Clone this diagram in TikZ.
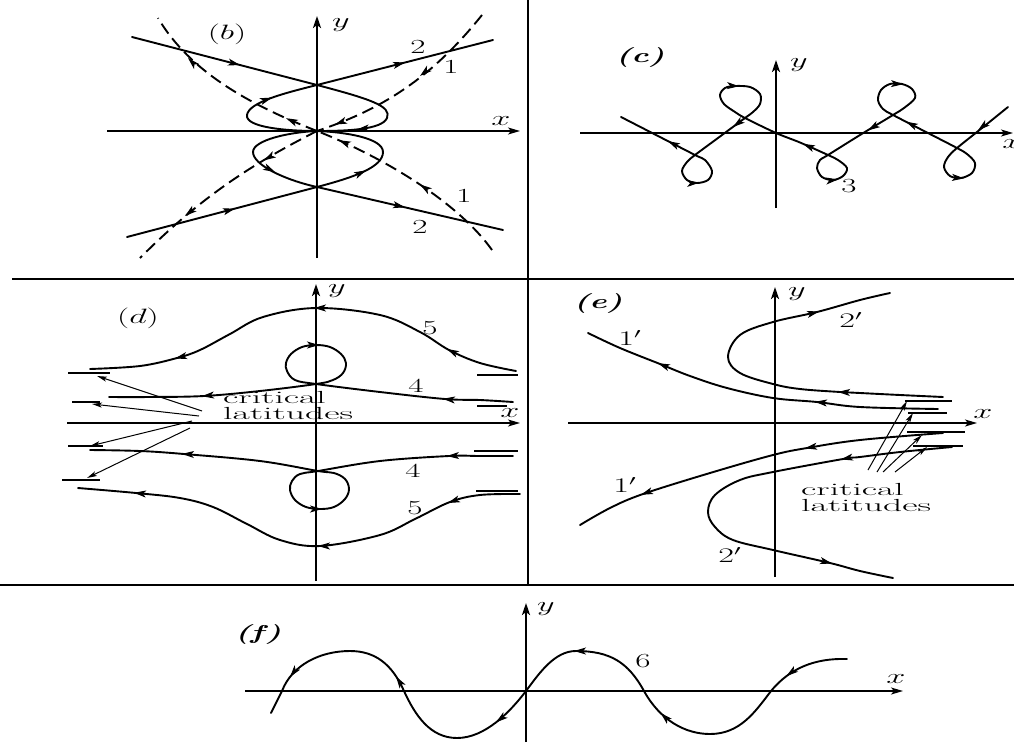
\documentclass[tikz,border=0pt]{standalone}
\usepackage{graphicx}
\usetikzlibrary{arrows.meta}
\tikzset{
  curve/.style={line width=1.9pt, line join=round, line cap=round},
  dsh/.style={line width=1.9pt, dash pattern=on 12pt off 6pt},
  tipst/.style={line width=1pt, -{Stealth[length=12pt,width=7pt,inset=3pt]}},
  thintip/.style={line width=1pt, -{Stealth[length=10pt,width=5pt,inset=2.5pt]}},
  yaxis/.style={line width=2.3pt, -{Stealth[length=12pt,width=8pt,inset=3pt]}},
  xaxis/.style={line width=1.3pt, -{Stealth[length=12pt,width=7pt,inset=3pt]}},
  lab/.style={font=\fontsize{20}{24}\selectfont, inner sep=0pt},
  critline/.style={line width=1.3pt},
  crittext/.style={font=\fontsize{17.5}{16}\selectfont, inner sep=0pt, align=left, anchor=north west}
}
\newcommand\tipAt[2]{\draw[tipst] (#1) -- (#2);}
\newcommand\wideword[1]{\scalebox{2.15}[1]{#1}}
\newcommand\lbl[1]{\scalebox{1.65}[1]{#1}}
\begin{document}
\begin{tikzpicture}[x=1pt,y=-1pt]
\fill[white] (0,0) rectangle (1014,742);
\useasboundingbox (0,0) rectangle (1014,742);
% frame
\draw[line width=2.8pt] (528,0) -- (528,586);
\draw[line width=1.6pt] (12,279) -- (1014,279);
\draw[line width=1.6pt] (0,585) -- (1014,585);

% ================= panel (b) =================
\draw[yaxis] (317,258) -- (317,16);
\draw[xaxis] (107,131) -- (520,131);
\node[lab] (by) at (341,25) {\lbl{$y$}};
\node[lab] (bx) at (501,121) {\lbl{$x$}};
\node[lab] (bl) at (227,34) {\lbl{$(b)$}};
\draw[curve] (132,37) -- (317,85) .. controls (370,99) and (392,106) .. (387,118)
  .. controls (382,130) and (345,131) .. (317,131)
  .. controls (290,131) and (245,128) .. (247,115)
  .. controls (249,102) and (285,93) .. (317,85) -- (493,40);
\draw[curve] (127,237) -- (317,187) .. controls (355,177) and (383,167) .. (383,152)
  .. controls (383,138) and (345,132) .. (317,131)
  .. controls (290,132) and (253,140) .. (253,152)
  .. controls (253,165) and (285,180) .. (317,187) -- (503,230);
\draw[dsh] (482,15) .. controls (430,80) and (380,110) .. (317,131);
\draw[dsh] (317,131) .. controls (250,105) and (190,72) .. (158,18);
\draw[dsh] (317,131) .. controls (250,165) and (200,198) .. (140,258);
\draw[dsh] (492,250) .. controls (460,205) and (390,160) .. (317,131);
\tipAt{236,64}{240,65}
\tipAt{401,63.5}{405,62.5}
\tipAt{361,129}{357,129.5}
\tipAt{268,99}{272,97.6}
\tipAt{231,209.7}{235,208.6}
\tipAt{401,206.4}{405,207.3}
\tipAt{362,172.3}{366,170.4}
\tipAt{271,170}{275,172}
\tipAt{423,73.5}{420,76}
\tipAt{339,123}{335,124.5}
\tipAt{290,120}{286,118.2}
\tipAt{191,61}{188,58}
\tipAt{268,158}{264,160.3}
\tipAt{188,213.6}{185,216}
\tipAt{424,187.2}{420,184.5}
\tipAt{342.5,141.8}{338.8,140.2}
\node[lab] (b2a) at (418,47) {\lbl{2}};
\node[lab] (b2b) at (420,227) {\lbl{2}};
\node[lab] (b1a) at (451,67) {\lbl{1}};
\node[lab] (b1b) at (464,196) {\lbl{1}};

% ================= panel (c) =================
\draw[yaxis] (776,208) -- (776,60);
\draw[xaxis] (580,133) -- (1013,133);
\node[lab] (cy) at (799,65) {\lbl{$y$}};
\node[lab] (cx) at (1012,144) {\lbl{$x$}};
\node[lab] (cl) at (640,57) {\lbl{\textbf{\textit{(c)}}}};
\draw[curve] plot[smooth, tension=0.55] coordinates {
 (1008,107) (982,128) (957,148) (948,157) (944,167) (950,176) (961,178) (972,173)
 (975,163) (967,154) (957,148) (925,131.5) (893,115) (883,109) (878,100) (881,90)
 (890,84) (902,84) (912,89) (915,98) (904,108) (893,115) (860,135) (828,155)
 (820,160) (817,168) (822,177) (833,180) (843,176) (847,168) (838,160) (828,155)
 (800,142.5) (776,133) (745,118) (735,112) (724,104) (720,95) (725,88) (735,86)
 (750,87) (760,94) (760,104) (753,112) (745,118) (720,136.5) (695,155) (687,162)
 (682,171) (687,180) (697,183) (708,180) (712,171) (705,160) (695,155) (658,136)
 (621,117)};
\tipAt{981.1,127.8}{978,130.3}
\tipAt{909.6,123.5}{906,121.7}
\tipAt{871.4,128.3}{868,130.4}
\tipAt{806.6,145.4}{803,143.8}
\tipAt{736.2,124.6}{733,127}
\tipAt{671.6,143}{668,141.2}
\tipAt{960,178}{964,178.3}
\tipAt{899,84}{903,84.2}
\tipAt{834,180}{838,179.5}
\tipAt{735,86}{739,86.2}
\tipAt{695,183}{699,182.8}
\node[lab] (c3) at (849,186) {\lbl{3}};

% ================= panel (d) =================
\draw[yaxis] (316,581) -- (316,284);
\draw[xaxis] (67,423) -- (520,423);
\node[lab] (dy) at (337,291) {\lbl{$y$}};
\node[lab] (dx) at (510,413) {\lbl{$x$}};
\node[lab] (dl) at (138,318) {\lbl{$(d)$}};
\draw[curve] plot[smooth, tension=0.6] coordinates {
 (516,371) (480,363) (449,350) (420,332) (380,315) (316,308) (263,317) (230,334)
 (200,350) (177,358) (140,366) (90,369)};
\draw[curve] plot[smooth, tension=0.6] coordinates {
 (513,402) (480,400) (445,399) (380,392) (316,384) (295,380) (287,371) (286,363)
 (291,354) (302,347) (316,345) (330,347) (341,354) (346,363) (343,373) (333,380)
 (316,384) (260,391) (204,396) (150,397) (109,397)};
\draw[curve] plot[smooth, tension=0.6] coordinates {
 (513,456) (480,456) (449,456) (380,461) (318,471) (300,474) (292,481) (290,490)
 (295,500) (306,507) (320,509) (334,507) (345,499) (349,489) (345,479) (334,473)
 (318,471) (260,461) (184,454) (140,451) (90,450)};
\draw[curve] plot[smooth, tension=0.6] coordinates {
 (520,494) (480,495) (450,502) (415,519) (380,535) (320,546) (280,540) (247,524)
 (213,507) (180,498) (136,493) (78,488)};
\tipAt{451,351}{447,349}
\tipAt{318,308}{314,308}
\tipAt{179,357.5}{175,358.5}
\tipAt{447,399.2}{443,398.8}
\tipAt{206,395.8}{202,396.2}
\tipAt{315,345}{319,345}
\tipAt{451,455.9}{447,456.1}
\tipAt{186,454.1}{182,453.9}
\tipAt{318,509}{322,509}
\tipAt{451.8,501.6}{448,503}
\tipAt{322,546}{318,546}
\tipAt{138,493.2}{134,492.8}
\node[lab] (d5a) at (430,328) {\lbl{5}};
\node[lab] (d4a) at (416,386) {\lbl{4}};
\node[lab] (d4b) at (413,471) {\lbl{4}};
\node[lab] (d5b) at (415,508) {\lbl{5}};
% critical latitude marks (d)
\draw[critline] (68,373) -- (110,373);
\draw[critline] (72,402) -- (100,402);
\draw[critline] (68,446) -- (103,446);
\draw[critline] (62,480) -- (100,480);
\draw[critline] (477,375) -- (518,375);
\draw[critline] (477,406) -- (507,406);
\draw[critline] (474,451) -- (518,451);
\draw[critline] (476,491) -- (518,491);
\node[crittext] (dct) at (223,391) {\wideword{critical}\\\wideword{latitudes}};
\coordinate (da1) at (202,411); \coordinate (db1) at (97,376);
\coordinate (da2) at (199,416); \coordinate (db2) at (92,404);
\coordinate (da3) at (192,421); \coordinate (db3) at (90,446);
\coordinate (da4) at (190,428); \coordinate (db4) at (87,478);
\draw[thintip] (da1) -- (db1);
\draw[thintip] (da2) -- (db2);
\draw[thintip] (da3) -- (db3);
\draw[thintip] (da4) -- (db4);

% ================= panel (e) =================
\draw[yaxis] (775,577) -- (775,287);
\draw[xaxis] (568,423) -- (977,423);
\node[lab] (ey) at (797,294) {\lbl{$y$}};
\node[lab] (ex) at (983,414) {\lbl{$x$}};
\node[lab] (el) at (598,303) {\lbl{\textbf{\textit{(e)}}}};
\draw[curve] plot[smooth, tension=0.6] coordinates {
 (943,397) (900,395) (860,393) (840,392) (800,389) (773,384) (740,373) (728,357)
 (740,335) (773,322) (817,312) (860,300) (890,293)};
\draw[curve] plot[smooth, tension=0.6] coordinates {
 (938,409) (860,407) (817,402) (773,398) (727,388) (690,376) (660,364) (620,348) (588,333)};
\draw[curve] plot[smooth, tension=0.6] coordinates {
 (943,433) (860,440) (807,448) (773,455) (710,473) (643,494) (610,508) (580,525)};
\draw[curve] plot[smooth, tension=0.6] coordinates {
 (952,447) (900,452) (860,457) (843,459) (773,472) (740,480) (715,495) (708,512)
 (715,527) (733,540) (773,550) (830,563) (860,571) (893,578)};
\tipAt{842,392.1}{838,391.9}
\tipAt{815,312.5}{819,311.5}
\tipAt{819,402.2}{815,401.8}
\tipAt{661.7,364.7}{658,363.2}
\tipAt{809,447.6}{805,448.3}
\tipAt{644.8,493.4}{641,494.8}
\tipAt{845,458.6}{841,459.4}
\tipAt{828,562.5}{832,563.5}
\node[lab] (e1a) at (630,338) {\lbl{$1'$}};
\node[lab] (e2a) at (851,320) {\lbl{$2'$}};
\node[lab] (e1b) at (625,485) {\lbl{$1'$}};
\node[lab] (e2b) at (730,555) {\lbl{$2'$}};
\draw[critline] (905,401) -- (952,401);
\draw[critline] (908,413) -- (947,413);
\draw[critline] (907,432) -- (965,432);
\draw[critline] (913,446) -- (963,446);
\node[crittext] (ect) at (801,483) {\wideword{critical}\\\wideword{latitudes}};
\coordinate (ea1) at (868,470); \coordinate (eb1) at (907,401);
\coordinate (ea2) at (877,472); \coordinate (eb2) at (913,413);
\coordinate (ea3) at (883,472); \coordinate (eb3) at (922,435);
\coordinate (ea4) at (895,472); \coordinate (eb4) at (927,447);
\draw[thintip] (ea1) -- (eb1);
\draw[thintip] (ea2) -- (eb2);
\draw[thintip] (ea3) -- (eb3);
\draw[thintip] (ea4) -- (eb4);

% ================= panel (f) =================
\draw[yaxis] (526,742) -- (526,603);
\draw[xaxis] (245,691) -- (903,691);
\node[lab] (fy) at (546,609) {\lbl{$y$}};
\node[lab] (fx) at (896,679) {\lbl{$x$}};
\node[lab] (fl) at (258,634) {\lbl{\textbf{\textit{(f)}}}};
\draw[curve] (847,659) .. controls (815,658) and (790,668) .. (771,691)
  .. controls (755,712) and (740,734) .. (710,734)
  .. controls (685,734) and (660,720) .. (644,691)
  .. controls (628,662) and (610,651) .. (576,651)
  .. controls (555,651) and (540,672) .. (526,691)
  .. controls (510,712) and (485,738) .. (457,738)
  .. controls (430,738) and (415,715) .. (404,691)
  .. controls (392,664) and (375,651) .. (350,651)
  .. controls (320,651) and (292,665) .. (282,691) -- (271,713);
\tipAt{789.6,673.7}{786.4,676.1}
\tipAt{663.6,715.8}{660.7,713}
\tipAt{578,651}{574,651}
\tipAt{499.2,719.9}{496,722.4}
\tipAt{398.3,679.9}{396.1,676.5}
\tipAt{292.5,673.7}{290,676.9}
\node[lab] (f6) at (643,661) {\lbl{6}};
\end{tikzpicture}
\end{document}
